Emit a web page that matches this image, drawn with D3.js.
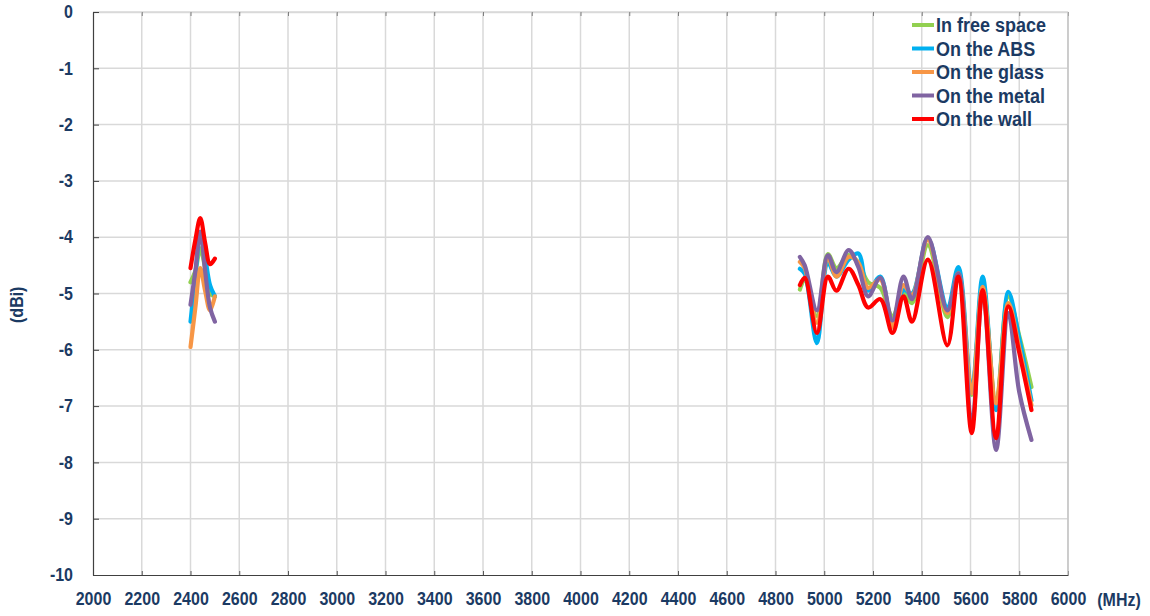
<!DOCTYPE html>
<html>
<head>
<meta charset="utf-8">
<script src="https://cdn.jsdelivr.net/npm/d3@7"></script>
<style>
    body { margin: 0; background: #ffffff; }
    .axis-label { font-family: "Liberation Sans", Arial, sans-serif; font-weight: bold; fill: #1b3a63; }
</style>
</head>
<body>
<div id="chart"></div>
<script>
// frequencies (MHz)
var freqLow = [2400, 2420, 2440, 2460, 2480, 2500];
var freqHigh = [4900, 4920, 4970, 5015, 5050, 5100, 5140, 5180, 5230, 5280, 5325,
                5360, 5425, 5505, 5550, 5605, 5650, 5705, 5755, 5800, 5850];

var seriesNames = ["In free space", "On the ABS", "On the glass", "On the metal", "On the wall"];

// gain (dBi), 2.4 GHz band
var freeSpaceLow = [-4.8, -4.6, -4.2, -4.55, -5.0, -5.05];
var absLow       = [-5.5, -4.7, -3.95, -4.35, -4.85, -5.05];
var glassLow     = [-5.95, -5.25, -4.55, -4.95, -5.3, -5.05];
var metalLow     = [-5.2, -4.6, -3.9, -4.6, -5.25, -5.5];
var wallLow      = [-4.55, -4.05, -3.66, -4.1, -4.48, -4.38];

// gain (dBi), 5 GHz band
var freeSpaceHigh = [-4.93, -4.75, -5.4, -4.3, -4.55, -4.32, -4.45, -4.8, -4.9, -5.4, -4.97,
                     -5.17, -4.14, -5.42, -4.6, -6.8, -4.85, -6.95, -5.05, -5.75, -6.66];
var absHigh       = [-4.56, -4.65, -5.88, -4.46, -4.7, -4.4, -4.29, -4.95, -4.7, -5.6, -4.94,
                     -5.0, -4.02, -5.24, -4.53, -6.72, -4.7, -7.07, -4.97, -5.8, -6.9];
var glassHigh     = [-4.44, -4.55, -5.52, -4.37, -4.7, -4.35, -4.45, -4.9, -4.75, -5.6, -4.85,
                     -5.03, -4.05, -5.35, -4.64, -6.77, -4.88, -6.95, -5.17, -5.97, -6.98];
var metalHigh     = [-4.35, -4.5, -5.3, -4.32, -4.62, -4.23, -4.53, -5.05, -4.72, -5.48, -4.7,
                     -5.1, -4.0, -5.3, -4.64, -7.35, -4.95, -7.78, -5.35, -6.75, -7.6];
var wallHigh      = [-4.85, -4.72, -5.7, -4.7, -4.95, -4.56, -4.85, -5.25, -5.1, -5.7, -5.05,
                     -5.5, -4.4, -5.92, -4.7, -7.48, -4.94, -7.57, -5.23, -6.05, -7.07];

var xTicks = d3.range(2000, 6001, 200);
var yTicks = d3.range(0, -10.5, -1);

GainChart = function(_parentElement) {
    this.parentElement = _parentElement;
    this.margin = { top: 12, right: 82, bottom: 41, left: 93 };
    this.width = 1150 - this.margin.left - this.margin.right;
    this.height = 616 - this.margin.top - this.margin.bottom;
    this.colours = ["#92d050", "#00b0f0", "#f79646", "#8064a2", "#ff0000"];
    this.lowData = [freeSpaceLow, absLow, glassLow, metalLow, wallLow];
    this.highData = [freeSpaceHigh, absHigh, glassHigh, metalHigh, wallHigh];
    this.initVis();
};

GainChart.prototype.initVis = function() {
    var vis = this;

    vis.svg = d3.select("#" + vis.parentElement).append("svg")
        .attr("width", 1150)
        .attr("height", 616)
        .append("g")
        .attr("transform", "translate(" + vis.margin.left + "," + vis.margin.top + ")");

    vis.x = d3.scaleLinear().domain([2000, 6000]).range([0, vis.width]);
    vis.y = d3.scaleLinear().domain([-10, 0]).range([vis.height, 0]);

    vis.drawGrid();
    vis.drawAxes();
    vis.drawLines();
    vis.drawLegend();
};

GainChart.prototype.drawGrid = function() {
    var vis = this;

    vis.svg.append("g").selectAll("line.vgrid")
        .data(xTicks.slice(1))
        .enter().append("line")
        .attr("x1", function(d) { return vis.x(d); })
        .attr("x2", function(d) { return vis.x(d); })
        .attr("y1", 0)
        .attr("y2", vis.height)
        .attr("stroke", "#d9d9d9")
        .attr("stroke-width", 1.5);

    vis.svg.append("g").selectAll("line.hgrid")
        .data(yTicks.slice(0, -1))
        .enter().append("line")
        .attr("x1", 0)
        .attr("x2", vis.width)
        .attr("y1", function(d) { return vis.y(d); })
        .attr("y2", function(d) { return vis.y(d); })
        .attr("stroke", "#d9d9d9")
        .attr("stroke-width", 1.5);
};

// bold labels look a little taller than wide in the original
GainChart.prototype.stretch = function(sel) {
    sel.each(function() {
        var t = d3.select(this);
        var x = +t.attr("x") || 0, y = +t.attr("y") || 0;
        t.attr("x", 0).attr("y", 0)
            .attr("transform", "translate(" + x + "," + y + ") scale(1,1.12)");
    });
};

GainChart.prototype.drawAxes = function() {
    var vis = this;

    // bottom axis, ticks pointing inwards
    var xAxis = d3.axisBottom(vis.x).tickValues(xTicks).tickSize(-4).tickSizeOuter(0)
        .tickFormat(d3.format("d"));
    var xg = vis.svg.append("g")
        .attr("transform", "translate(0," + vis.height + ")")
        .call(xAxis);
    xg.select(".domain").attr("stroke", "#404040").attr("stroke-width", 1.2);
    xg.selectAll(".tick line").attr("stroke", "#595959");
    xg.selectAll(".tick text")
        .attr("class", "axis-label")
        .attr("font-size", "16px")
        .attr("y", 17)
        .attr("dy", "0.71em")
        .call(vis.stretch);

    // top axis line (axis crosses at 0)
    var xTop = d3.axisTop(vis.x).tickValues(xTicks).tickSize(-4).tickSizeOuter(0).tickFormat("");
    var tg = vis.svg.append("g").call(xTop);
    tg.select(".domain").attr("stroke", "#d9d9d9").attr("stroke-width", 1.5);
    tg.selectAll(".tick line").attr("stroke", "#7f7f7f");

    var yAxis = d3.axisLeft(vis.y).tickValues(yTicks).tickSize(-6).tickSizeOuter(0)
        .tickFormat(d3.format("d"));
    var yg = vis.svg.append("g").call(yAxis);
    yg.select(".domain").attr("stroke", "#404040").attr("stroke-width", 1.2);
    yg.selectAll(".tick line").attr("stroke", "#404040");
    yg.selectAll(".tick text")
        .attr("class", "axis-label")
        .attr("font-size", "16px")
        .attr("x", -20)
        .text(function(d) { return d === 0 ? "0" : d3.format("d")(d).replace("\u2212", "-"); })
        .call(vis.stretch);

    // right border
    vis.svg.append("line")
        .attr("x1", vis.width).attr("x2", vis.width)
        .attr("y1", 0).attr("y2", vis.height)
        .attr("stroke", "#bfbfbf").attr("stroke-width", 1.2);

    vis.svg.append("text")
        .attr("class", "axis-label")
        .attr("font-size", "16px")
        .attr("text-anchor", "middle")
        .attr("x", vis.width + 51)
        .attr("y", vis.height + 31)
        .text("(MHz)")
        .call(vis.stretch);

    vis.svg.append("text")
        .attr("class", "axis-label")
        .attr("font-size", "16px")
        .attr("text-anchor", "middle")
        .attr("transform", "translate(-70," + vis.y(-5.2) + ") rotate(-90) scale(1,1.12)")
        .text("(dBi)");
};

GainChart.prototype.drawLines = function() {
    var vis = this;

    var line = d3.line()
        .curve(d3.curveCatmullRom.alpha(0.5))
        .x(function(d) { return vis.x(d.f); })
        .y(function(d) { return vis.y(d.v); });

    vis.colours.forEach(function(colour, i) {
        [[freqLow, vis.lowData[i]], [freqHigh, vis.highData[i]]].forEach(function(band) {
            var pts = band[0].map(function(f, j) { return { f: f, v: band[1][j] }; });
            vis.svg.append("path")
                .attr("fill", "none")
                .attr("stroke", colour)
                .attr("stroke-width", 4.2)
                .attr("stroke-linejoin", "round")
                .attr("stroke-linecap", "round")
                .attr("d", line(pts));
        });
    });
};

GainChart.prototype.drawLegend = function() {
    var vis = this;

    var legend = vis.svg.append("g")
        .attr("transform", "translate(" + (vis.width - 156) + ",13)");

    var rows = legend.selectAll("g")
        .data(seriesNames)
        .enter().append("g")
        .attr("transform", function(d, i) { return "translate(0," + (i * 23.5) + ")"; });

    rows.append("line")
        .attr("x1", 0).attr("x2", 22)
        .attr("stroke", function(d, i) { return vis.colours[i]; })
        .attr("stroke-width", 4);

    rows.append("text")
        .attr("class", "axis-label")
        .attr("font-size", "18px")
        .attr("x", 24)
        .attr("y", 0)
        .attr("dy", "0.35em")
        .call(vis.stretch);
    rows.selectAll("text").text(function(d) { return d; });
};

new GainChart("chart");
</script>
</body>
</html>
